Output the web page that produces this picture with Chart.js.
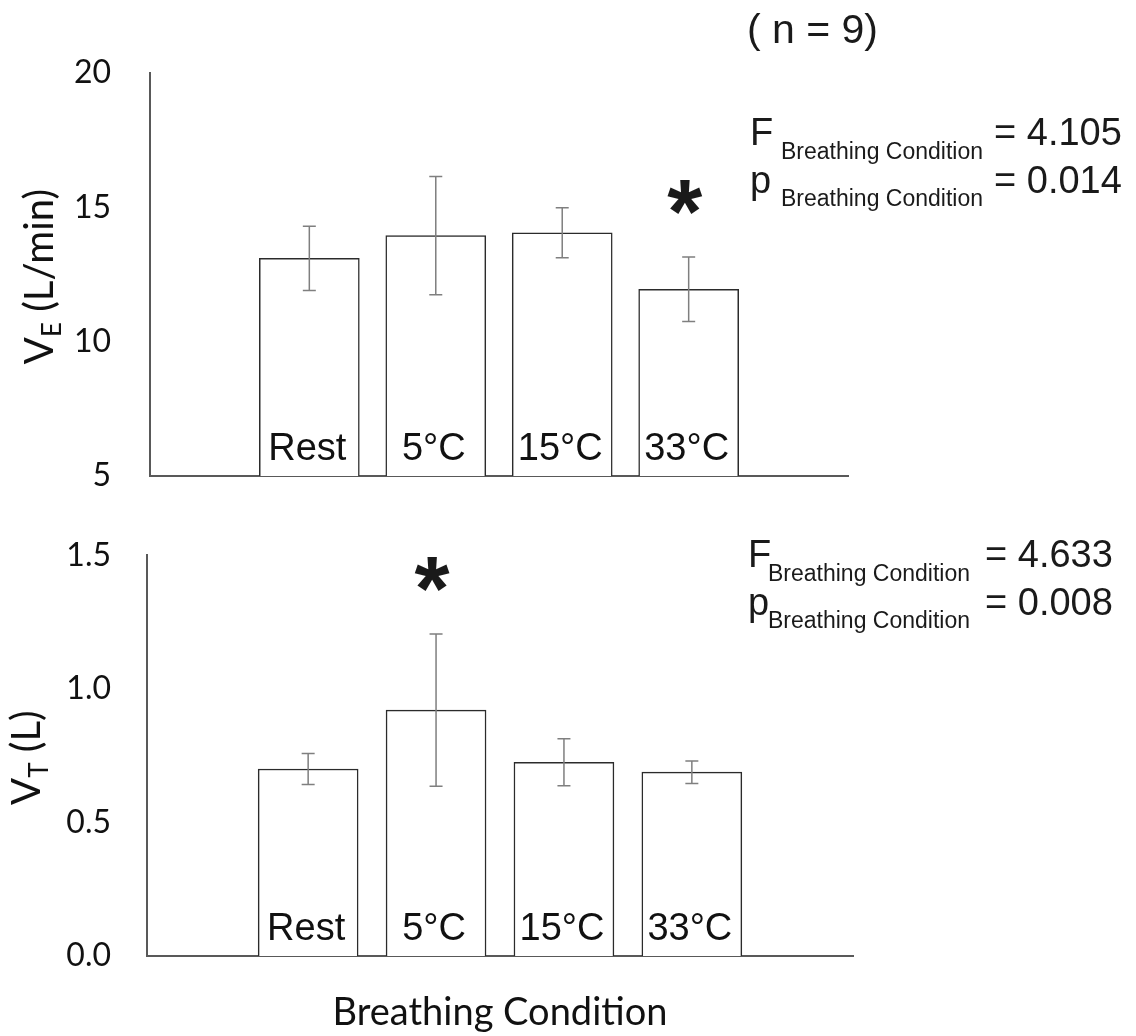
<!DOCTYPE html>
<html>
<head>
<meta charset="utf-8">
<script src="https://cdn.jsdelivr.net/npm/chart.js@4.4.1/dist/chart.umd.min.js"></script>
<style>
  html, body { margin: 0; padding: 0; background: #fff; }
  body { width: 1136px; height: 1036px; position: relative; overflow: hidden; }
  canvas { position: absolute; left: 0; }
  #veChart { top: 0; }
  #vtChart { top: 500px; }
</style>
</head>
<body>
<canvas id="veChart" width="1136" height="560"></canvas>
<canvas id="vtChart" width="1136" height="536"></canvas>
<script>
// data
const conditions = ["Rest", "5°C", "15°C", "33°C"];
const slots = [1, 2, 3, 4];
const veMean = [13.1, 13.95, 14.05, 11.95];
const veSd = [1.2, 2.2, 0.93, 1.2];
const vtMean = [0.70, 0.92, 0.725, 0.688];
const vtSd = [0.058, 0.285, 0.088, 0.042];
const veStar = [false, false, false, true];
const vtStar = [false, true, false, false];
const veTicks = [5, 10, 15, 20];
const vtTicks = [0, 0.5, 1.0, 1.5];
const veStats = ["4.105", "0.014"];
const vtStats = ["4.633", "0.008"];

const SANS = "'Liberation Sans', Arial, sans-serif";
const LATO = "Lato, 'Open Sans', sans-serif";

// draws "main" + subscript + rest, left to right from x
function subText(ctx, x, y, main, sub, rest, size, subSize, drop) {
  ctx.font = size + "px " + LATO;
  ctx.fillText(main, x, y);
  x += ctx.measureText(main).width;
  ctx.font = subSize + "px " + LATO;
  ctx.fillText(sub, x, y + drop);
  x += ctx.measureText(sub).width;
  ctx.font = size + "px " + LATO;
  ctx.fillText(rest, x, y);
}

function subWidth(ctx, main, sub, rest, size, subSize) {
  ctx.font = size + "px " + LATO;
  let w = ctx.measureText(main).width + ctx.measureText(rest).width;
  ctx.font = subSize + "px " + LATO;
  return w + ctx.measureText(sub).width;
}

const extrasPlugin = {
  id: "extras",
  afterDatasetsDraw(chart, args, o) {
    const ctx = chart.ctx;
    const xs = chart.scales.x, ys = chart.scales.y;
    const area = chart.chartArea;
    ctx.save();

    // error bars + significance stars
    ctx.strokeStyle = "#7f7f7f";
    ctx.lineWidth = 1.5;
    o.mean.forEach((m, i) => {
      const x = xs.getPixelForValue(slots[i]);
      const yt = ys.getPixelForValue(m + o.sd[i]);
      const yb = ys.getPixelForValue(m - o.sd[i]);
      ctx.beginPath();
      ctx.moveTo(x, yt); ctx.lineTo(x, yb);
      ctx.moveTo(x - 6.5, yt); ctx.lineTo(x + 6.5, yt);
      ctx.moveTo(x - 6.5, yb); ctx.lineTo(x + 6.5, yb);
      ctx.stroke();
      if (o.star[i]) {
        ctx.fillStyle = "#1a1a1a";
        ctx.font = "bold 90px " + SANS;
        ctx.textAlign = "center";
        ctx.textBaseline = "alphabetic";
        ctx.fillText("*", x - 4, yt - 58 + 44);
      }
    });

    // category names inside the bars
    ctx.fillStyle = "#111";
    ctx.font = "38px " + SANS;
    ctx.textAlign = "center";
    ctx.textBaseline = "alphabetic";
    conditions.forEach((c, i) => {
      ctx.fillText(c, xs.getPixelForValue(slots[i]) - 2, area.bottom - 16);
    });

    // rotated y title with subscript
    ctx.fillStyle = "#111";
    const w = subWidth(ctx, "V", o.ySub, o.yRest, 40, 26);
    ctx.translate(o.titleX, (area.top + area.bottom) / 2 + 2);
    ctx.rotate(-Math.PI / 2);
    ctx.textAlign = "left";
    subText(ctx, -w / 2, 0, "V", o.ySub, o.yRest, 40, 26, 8);
    ctx.setTransform(1, 0, 0, 1, 0, 0);

    // ANOVA results
    ctx.fillStyle = "#1a1a1a";
    ctx.textAlign = "left";
    const s = o.stats;
    ctx.font = "38px " + SANS;
    ctx.fillText("F", s.x, s.y1);
    ctx.fillText("= " + o.vals[0], s.valX, s.y1);
    ctx.fillText("p", s.x, s.y2);
    ctx.fillText("= " + o.vals[1], s.valX, s.y2);
    ctx.font = "23px " + SANS;
    ctx.fillText("Breathing Condition", s.subX, s.y1 + 14);
    ctx.fillText("Breathing Condition", s.subX, s.y2 + 13);

    if (o.note) {
      ctx.font = "41px " + SANS;
      ctx.fillText(o.note.text, o.note.x, o.note.y);
    }
    if (o.xTitle) {
      ctx.font = "38px " + LATO;
      ctx.textAlign = "center";
      ctx.fillStyle = "#111";
      ctx.fillText(o.xTitle.text, o.xTitle.x, o.xTitle.y);
    }
    ctx.restore();
  }
};

function makeChart(id, mean, ticks, pad, axisW, tickFmt, extras) {
  return new Chart(document.getElementById(id), {
    type: "bar",
    data: {
      datasets: [{
        data: slots.map((s, i) => ({ x: s, y: mean[i] })),
        backgroundColor: "#ffffff",
        borderColor: "#2b2b2b",
        borderWidth: 1.5,
        borderSkipped: "bottom",
        barThickness: 100
      }]
    },
    options: {
      responsive: false,
      maintainAspectRatio: false,
      animation: false,
      events: [],
      layout: { padding: pad },
      plugins: { legend: { display: false }, tooltip: { enabled: false }, extras },
      scales: {
        x: {
          type: "linear",
          offset: false,
          min: -0.26,
          max: 5.26,
          grid: { display: false, offset: false },
          border: { display: true, color: "#595959", width: 2 },
          ticks: { display: false },
          afterFit: s => { s.height = 0; }
        },
        y: {
          min: ticks[0],
          max: ticks[ticks.length - 1],
          afterBuildTicks: s => { s.ticks = ticks.map(v => ({ value: v })); },
          grid: { display: false, drawTicks: false },
          border: { display: true, color: "#595959", width: 2 },
          ticks: {
            padding: axisW - 111,
            color: "#111",
            font: { family: LATO, size: 32 },
            callback: tickFmt
          },
          afterFit: s => { s.width = axisW; }
        }
      }
    },
    plugins: [extrasPlugin]
  });
}

makeChart("veChart", veMean, veTicks, { top: 73, bottom: 84, right: 288, left: 0 }, 150,
  v => String(v),
  {
    mean: veMean, sd: veSd, star: veStar,
    ySub: "E", yRest: " (L/min)", titleX: 53,
    vals: veStats,
    stats: { x: 750, subX: 781, valX: 994, y1: 145, y2: 193 },
    note: { text: "( n = 9)", x: 747, y: 43 }
  });

makeChart("vtChart", vtMean, vtTicks, { top: 53, bottom: 80, right: 283, left: 0 }, 147,
  v => v.toFixed(1),
  {
    mean: vtMean, sd: vtSd, star: vtStar,
    ySub: "T", yRest: " (L)", titleX: 40,
    vals: vtStats,
    stats: { x: 748, subX: 768, valX: 985, y1: 67, y2: 115 },
    xTitle: { text: "Breathing Condition", x: 500, y: 525 }
  });
</script>
</body>
</html>
